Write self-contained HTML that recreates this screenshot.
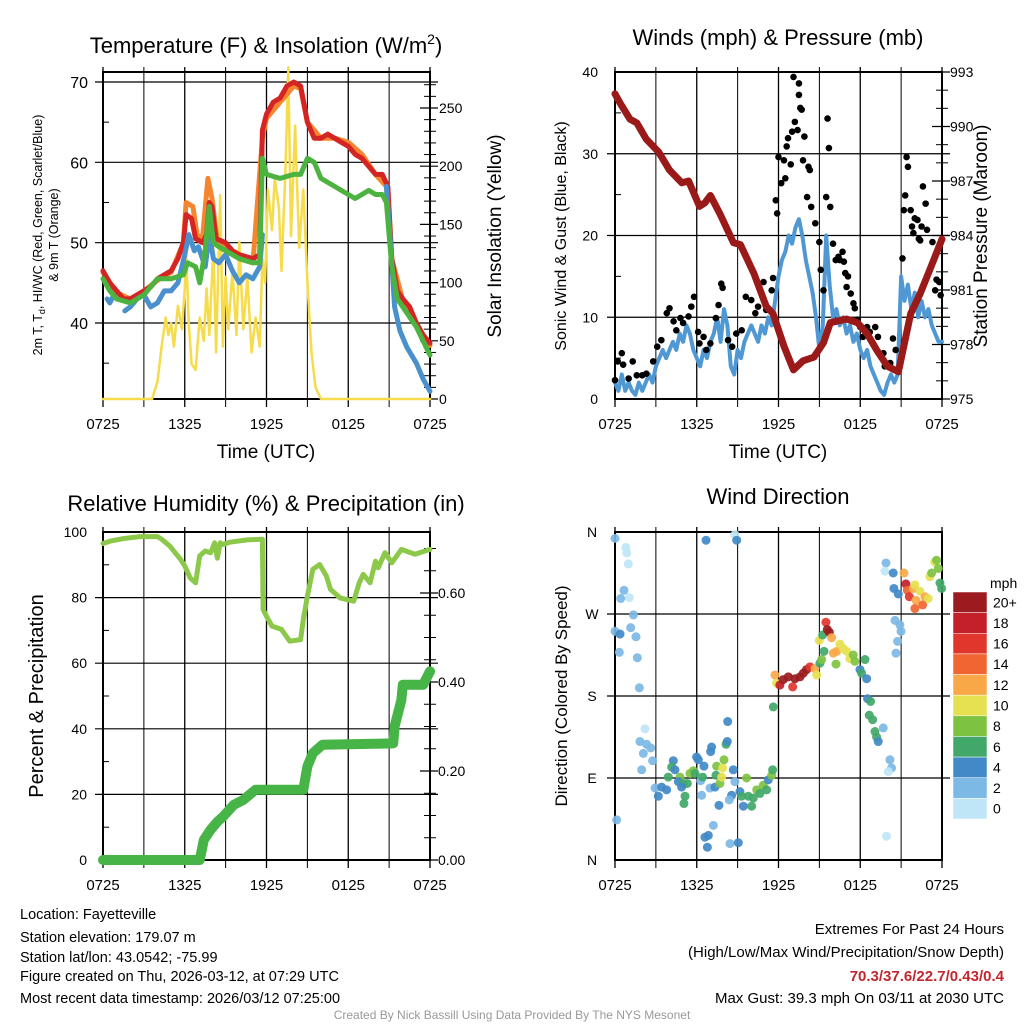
<!DOCTYPE html>
<html><head><meta charset="utf-8"><style>
body{margin:0;background:#fff}
svg{display:block;font-family:"Liberation Sans",Arial,sans-serif}
</style></head><body>
<svg id="c" width="1024" height="1024" viewBox="0 0 1024 1024" xmlns="http://www.w3.org/2000/svg">
<rect width="1024" height="1024" fill="#fff"/>
<g id="g1"></g>
<g id="g2"></g>
<g id="g3"></g>
<g id="g4"></g>
<text x="266" y="53" font-size="22" text-anchor="middle">Temperature (F) &amp; Insolation (W/m<tspan font-size="14" dy="-9">2</tspan><tspan dy="9">)</tspan></text>
<text x="778" y="45" font-size="22" text-anchor="middle">Winds (mph) &amp; Pressure (mb)</text>
<text x="266" y="511" font-size="22" text-anchor="middle">Relative Humidity (%) &amp; Precipitation (in)</text>
<text x="778" y="504" font-size="22" text-anchor="middle">Wind Direction</text>
<text transform="translate(42,235) rotate(-90)" font-size="12.5" text-anchor="middle">2m T, T<tspan font-size="9" dy="3">d</tspan><tspan dy="-3">, HI/WC (Red, Green, Scarlet/Blue)</tspan></text>
<text transform="translate(58,235) rotate(-90)" font-size="12.5" text-anchor="middle">&amp; 9m T (Orange)</text>
<text transform="translate(501,236) rotate(-90)" font-size="19" text-anchor="middle">Solar Insolation (Yellow)</text>
<text transform="translate(566,236) rotate(-90)" font-size="16" text-anchor="middle">Sonic Wind &amp; Gust (Blue, Black)</text>
<text transform="translate(987,236) rotate(-90)" font-size="19" text-anchor="middle">Station Pressure (Maroon)</text>
<text transform="translate(43,696) rotate(-90)" font-size="20" text-anchor="middle">Percent &amp; Precipitation</text>
<text transform="translate(567,696) rotate(-90)" font-size="17" text-anchor="middle">Direction (Colored By Speed)</text>
<text x="266" y="458" font-size="19" text-anchor="middle">Time (UTC)</text>
<text x="778" y="458" font-size="19" text-anchor="middle">Time (UTC)</text>
<g font-size="14.5">
<text x="20" y="919">Location: Fayetteville</text>
<text x="20" y="942">Station elevation: 179.07 m</text>
<text x="20" y="962">Station lat/lon: 43.0542; -75.99</text>
<text x="20" y="981">Figure created on Thu, 2026-03-12, at 07:29 UTC</text>
<text x="20" y="1003">Most recent data timestamp: 2026/03/12 07:25:00</text>
</g>
<g font-size="15" text-anchor="end">
<text x="1004" y="934">Extremes For Past 24 Hours</text>
<text x="1004" y="957">(High/Low/Max Wind/Precipitation/Snow Depth)</text>
<text x="1004" y="981" fill="#c1272d" font-weight="bold">70.3/37.6/22.7/0.43/0.4</text>
<text x="1004" y="1003">Max Gust: 39.3 mph On 03/11 at 2030 UTC</text>
</g>
<text x="512" y="1019" font-size="12" fill="#999" text-anchor="middle">Created By Nick Bassill Using Data Provided By The NYS Mesonet</text>
</svg>
<script>
// ---------- data ----------
const xTickLabels = ["0725","1325","1925","0125","0725"];
const redT = [[0,46.5],[0.5,45],[1,44],[1.5,43],[2,43],[3,44],[3.5,44.5],[4,45.5],[4.5,46],[5,46.5],[5.5,48],[5.9,50],[6.1,53.5],[6.5,53],[6.8,50.5],[7.3,50],[7.6,51],[7.8,55],[8,54.5],[8.3,50.5],[9,50],[9.5,49],[10,48.5],[11,48],[11.5,48.5],[11.7,64],[12,66],[12.5,67.5],[13,68],[13.5,69.5],[14,70],[14.5,69.5],[15,65],[15.5,63],[16,63],[16.5,63.5],[17,63],[17.5,62.5],[18,62],[18.5,61],[19,60.5],[19.5,59.5],[20,58.5],[20.5,58.5],[20.9,57],[21.2,48],[21.6,44],[22,43],[22.5,42],[23,40],[23.5,38.5],[24,37.5]];
const orangeT = [[0,46.3],[1,43.8],[2,43],[3,44],[4,45.3],[5,46.3],[5.9,50],[6.1,55],[6.6,54.5],[6.9,51],[7.3,50.5],[7.7,58],[8,55.5],[8.4,50],[9,49.5],[10,48],[11,47.5],[11.7,63],[12,65.5],[13,67.5],[14,69.5],[14.5,69.2],[15,65],[16,63],[17,63],[18,62.5],[19,61],[20,58.5],[20.8,57],[21.2,48],[22,42.8],[23,39.8],[24,37.2]];
const greenT = [[0,45.5],[0.5,44],[1,43],[2,42.5],[3,43.5],[4,45.5],[5,45.5],[5.9,46],[6.2,47.5],[6.8,47],[7.1,45],[7.5,49],[7.8,54.5],[8.1,50],[8.5,49.5],[9,49],[10,48],[11,47.5],[11.5,47.5],[11.7,60.5],[12,58.5],[13,58],[14,58.5],[14.5,58.5],[15,60.5],[15.5,60],[16,58],[17,57],[18,56],[18.5,55.5],[19,56],[19.5,56.5],[20,56],[20.5,56],[20.8,55],[21.2,47],[21.6,43],[22,42],[23,39.5],[24,36]];
const blueT = [[0.3,43],[0.5,42.5],[0.8,43.5],[null,null],[1.6,41.5],[2,42],[2.5,43],[3,43.5],[3.5,42],[4,42.5],[4.5,44],[5,44],[5.5,45],[6,48.5],[6.3,51],[6.7,49],[7,49.5],[7.5,47],[7.8,51],[8.1,48],[8.5,47.5],[9,48.5],[9.5,46.5],[10,45],[10.5,46],[11,45.5],[11.5,47],[11.7,51],[null,null],[20.8,57],[21.1,50],[21.4,42],[21.8,39],[22.3,37],[23,35],[23.5,33],[24,31.5]];
const solar = [[0,0],[3.6,0],[4.0,15],[4.3,45],[4.6,70],[4.8,55],[5.0,65],[5.2,45],[5.5,80],[5.8,60],[6.0,95],[6.1,125],[6.3,65],[6.5,30],[6.8,25],[7.1,70],[7.4,50],[7.6,95],[7.8,55],[8.1,130],[8.3,40],[8.6,175],[8.8,45],[9.0,105],[9.2,60],[9.5,110],[9.8,55],[10.0,135],[10.3,60],[10.6,105],[10.9,40],[11.2,70],[11.5,45],[11.7,120],[11.9,100],[12.1,180],[12.4,145],[12.6,190],[12.9,165],[13.1,110],[13.4,200],[13.6,285],[13.8,140],[14.1,235],[14.4,130],[14.7,180],[15.0,100],[15.3,40],[15.6,10],[16,0],[24,0]];
const windTimes = [];
const windSpeed = [2,1,3,1,2,1,0.5,2,1,2,3,2, 4,5,6,5,6,7,6,8,7,9,8,6, 5,4,6,5,7,8,10,7,11,9,4,3, 6,5,7,8,9,8,7,9,8,10,9,12, 15,17,18,20,19,21,22,20,17,15,13,10, 6,9,20,14,10,11,9,10,8,9,7,8, 6,5,6,4,3,2,1,0.5,2,3,2,3, 15,12,14,11,13,10,12,10,11,9,8,7,7];
const gusts = [[0,2.3],[0.2,4.6],[0.5,5.6],[0.6,4.2],[1.0,2.5],[1.3,4.6],[1.6,2.9],[2.0,2.9],[2.3,3.1],[2.8,4.6],[3.1,6.4],[3.4,7.2],[3.8,10.5],[4.0,11.1],[4.3,9.5],[4.5,8.4],[4.8,9.9],[5.0,9.3],[5.4,10.1],[5.6,11.3],[5.8,12.5],[6.1,8.2],[6.2,6.8],[6.5,7.6],[6.7,6.0],[7.0,6.8],[7.4,9.9],[7.6,11.5],[7.8,14.1],[7.9,13.6],[8.3,7.2],[8.6,6.4],[8.9,8.0],[9.3,8.4],[9.6,12.5],[10.0,12.1],[10.3,10.5],[10.5,11.3],[10.9,14.3],[11.1,10.9],[11.5,13.3],[11.6,14.8],[11.8,24.3],[11.9,22.7],[12.0,29.6],[12.2,26.4],[12.4,29.2],[12.5,27.0],[12.6,30.9],[12.7,31.9],[12.9,28.7],[13.0,32.7],[13.1,39.4],[13.2,33.9],[13.4,32.9],[13.5,37.2],[13.5,38.6],[13.6,35.6],[13.7,35.4],[13.8,29.2],[13.9,32.1],[14.1,24.7],[14.2,28.4],[14.3,28.0],[14.4,23.5],[14.7,21.5],[15.0,19.2],[15.1,15.8],[15.3,13.3],[15.5,24.7],[15.6,34.3],[15.7,30.7],[15.8,23.5],[16.0,19.0],[16.2,17.0],[16.4,17.4],[16.5,17.0],[16.7,18.0],[16.8,16.8],[16.9,15.4],[17.0,13.7],[17.1,15.0],[17.3,12.9],[17.5,11.7],[17.6,11.1],[17.8,9.7],[18.0,8.8],[18.2,7.6],[18.5,8.8],[18.7,8.2],[19.1,8.8],[19.3,7.6],[19.7,5.6],[19.8,4.0],[20.2,4.4],[20.4,7.4],[20.6,6.0],[21.1,17.2],[21.2,23.1],[21.3,24.9],[21.4,29.6],[21.5,28.4],[21.7,23.1],[21.8,21.1],[21.9,20.3],[22.0,22.1],[22.2,21.9],[22.3,19.6],[22.4,19.4],[22.5,21.1],[22.6,26.0],[22.8,23.9],[22.9,20.7],[23.3,19.2],[23.4,17.0],[23.6,14.6],[23.8,14.3],[23.5,13.3],[23.9,12.7]];
const pressure = [[0,991.8],[0.37,991.3],[1.1,990.4],[1.6,990.2],[2.3,989.3],[3.2,988.6],[4.0,987.6],[4.9,986.9],[5.4,987.0],[6.2,985.6],[6.6,985.8],[7.0,986.2],[7.7,985.2],[8.7,983.6],[9.2,983.5],[10.2,981.9],[11.1,980.1],[11.6,979.7],[12.4,977.9],[13.1,976.6],[13.8,977.1],[14.6,977.3],[15.3,978.1],[15.8,979.2],[17.0,979.4],[17.8,979.2],[18.5,978.6],[19.2,977.7],[20.0,976.8],[20.8,976.5],[21.7,979.7],[22.4,980.8],[23.1,982.1],[24,983.8]];
const rh = [[0,96.5],[0.5,97.2],[1.5,98],[2.7,98.6],[4.0,98.6],[4.3,97.8],[4.9,95.7],[5.7,91.6],[6.0,89.6],[6.4,86],[6.8,84.5],[7.1,92.7],[7.5,94.2],[7.9,93.7],[8.2,96.7],[8.4,92],[8.6,96.7],[8.8,96.2],[9.3,96.9],[10.6,97.6],[11.7,97.8],[11.75,76.4],[12.0,74.3],[12.4,71.3],[13.1,70.3],[13.7,66.7],[14.5,67.2],[14.7,73.3],[15.0,80.4],[15.4,88.6],[15.9,90.1],[16.4,86.6],[16.7,82.5],[17.4,79.9],[18.4,78.9],[18.8,84.5],[19.1,87.1],[19.6,84.5],[20.0,91.1],[20.2,89.1],[20.7,93.7],[21.2,90.6],[21.9,94.7],[22.9,93.2],[24,94.7]];
const precip = [[0,0],[7.1,0],[7.4,0.045],[7.9,0.068],[8.4,0.086],[8.8,0.097],[9.6,0.124],[10.3,0.135],[11.2,0.158],[14.7,0.158],[15.0,0.21],[15.4,0.24],[16.1,0.259],[21.3,0.262],[21.4,0.30],[21.9,0.36],[22.0,0.394],[23.5,0.394],[24,0.424]];
const dirObs = [[0,353,1],[0.8,343,0],[0.86,337,0],[0.98,325,0],[0.66,296,1],[0.42,287,2],[1.05,288,0],[1.35,269,2],[1.15,255,2],[0,251,2],[0.37,248,4],[1.54,245,2],[0.32,228,2],[1.64,222,2],[1.79,189,2],[2.2,144,0],[1.83,130,2],[2.32,127,1],[2.62,123,2],[2.08,117,2],[2.76,109,2],[1.96,99,2],[0.12,44,2],[2.94,79,2],[3.42,80,4],[3.79,77,4],[3.18,70,4],[4.28,109,4],[4.16,102,6],[3.91,91,6],[4.4,99,4],[4.77,91,8],[4.65,86,4],[5.01,84,6],[5.31,84,6],[5.5,95,8],[5.75,98,8],[5.87,95,6],[5.14,70,6],[5.06,62,6],[4.89,80,4],[5.99,113,4],[6.12,110,4],[6.53,103,4],[6.29,87,2],[6.43,91,6],[6.36,71,2],[6.97,79,2],[7.09,124,4],[7.02,119,4],[7.34,80,4],[7.46,103,8],[7.41,93,6],[7.7,84,8],[7.9,101,10],[7.83,91,10],[8.0,110,8],[8.15,127,6],[8.24,130,4],[8.27,152,4],[7.63,60,4],[7.22,38,2],[6.85,27,4],[6.6,25,4],[6.78,14,4],[8.44,18,2],[9.05,19,4],[6.68,351,4],[8.8,357,0],[8.93,351,4],[8.68,99,4],[8.8,86,2],[8.56,71,4],[8.39,66,2],[9.17,75,4],[9.29,70,6],[9.42,59,4],[9.66,90,8],[9.78,70,6],[10.03,59,6],[10.15,68,6],[10.4,77,8],[10.64,73,6],[10.88,82,8],[11.13,77,6],[11.25,88,4],[11.5,93,8],[11.57,99,6],[11.62,168,6],[11.74,203,12],[11.86,194,10],[12.1,192,18],[12.35,198,20],[12.72,201,20],[13.04,190,16],[13.21,199,20],[13.58,201,20],[13.82,205,20],[14.06,209,20],[14.31,212,16],[14.68,210,12],[14.8,203,10],[15.04,216,6],[15.17,220,8],[14.99,241,10],[15.24,247,6],[15.48,261,16],[15.58,253,20],[15.73,250,20],[15.9,244,12],[15.34,229,6],[16.02,227,12],[16.27,229,12],[16.51,237,10],[16.76,232,10],[17.0,229,10],[17.24,221,10],[17.49,225,8],[17.61,218,8],[16.22,215,8],[18.35,220,6],[17.98,209,4],[18.1,205,6],[18.47,199,4],[18.54,177,4],[18.76,174,6],[18.66,159,6],[18.91,154,6],[19.08,141,6],[19.2,135,6],[19.69,145,2],[19.32,130,4],[20.18,110,2],[20.3,101,2],[20.06,97,0],[19.93,26,0],[19.89,326,2],[19.81,317,0],[20.42,315,4],[20.47,298,4],[20.79,292,4],[20.55,263,2],[20.91,258,2],[20.99,251,2],[20.74,240,2],[20.62,227,2],[21.21,315,12],[21.35,303,18],[21.45,296,14],[21.6,289,16],[21.89,298,12],[22.01,302,10],[22.09,285,12],[22.01,276,14],[22.38,295,10],[22.58,280,14],[22.75,289,12],[22.99,287,10],[23.11,311,10],[23.24,315,8],[23.48,327,10],[23.6,329,8],[23.73,320,8],[23.85,304,6],[23.97,298,6]];
const speedBins = ["0","2","4","6","8","10","12","14","16","18","20+"];
const speedColors = ["#bfe6f7","#7db9e5","#4189c7","#42a86a","#7ec242","#e6e151","#f9a848","#f06530","#e0362b","#c3202a","#9b1b1e"];

const NS="http://www.w3.org/2000/svg";
function mk(parent,tag,attrs){const e=document.createElementNS(NS,tag);for(const k in attrs)e.setAttribute(k,attrs[k]);parent.appendChild(e);return e;}
function txt(parent,x,y,s,size,anchor){const e=mk(parent,"text",{x:x,y:y,"font-size":size,"text-anchor":anchor});e.textContent=s;return e;}
function panel(gid,x0,y0,w,h){return {g:document.getElementById(gid),x0,y0,w,h,x:t=>x0+t*w/24};}
function lin(v0,v1,p0,p1){return v=>p0+(v-v0)*(p1-p0)/(v1-v0);}
function frame(P,leftTicks,ly,rightTicks,ry,minorL,minorR){
  const g=P.g;
  for(let i=0;i<=8;i++){const X=P.x(i*3);const l=mk(g,"line",{x1:X,x2:X,y1:P.y0-5,y2:P.y0+P.h+8,stroke:"#000","stroke-width":(i%2?1:1.3)});
    
    }
  leftTicks.forEach(v=>{const Y=ly(v);const l=mk(g,"line",{x1:P.x0-8,x2:P.x0+P.w+8,y1:Y,y2:Y,stroke:"#000","stroke-width":1.2});
    
    });
  minorL.forEach(v=>{const Y=ly(v);mk(g,"line",{x1:P.x0,x2:P.x0+6,y1:Y,y2:Y,stroke:"#000","stroke-width":1});});
  if(ry){rightTicks.forEach(v=>{const Y=ry(v);mk(g,"line",{x1:P.x0+P.w-10,x2:P.x0+P.w+8,y1:Y,y2:Y,stroke:"#000","stroke-width":1.2});});
    minorR.forEach(v=>{const Y=ry(v);mk(g,"line",{x1:P.x0+P.w-6,x2:P.x0+P.w+6,y1:Y,y2:Y,stroke:"#000","stroke-width":1});});}
  mk(g,"rect",{x:P.x0,y:P.y0,width:P.w,height:P.h,fill:"none",stroke:"#000","stroke-width":2});
  xTickLabels.forEach((s,i)=>{const t=txt(g,P.x(i*6),P.y0+P.h+30,s,15,"middle");
    
    });
}
function path(P,yf,arr,color,wd,name,opac){
  let d="",pen=false;
  arr.forEach(p=>{if(p[0]===null){pen=false;return;}d+=(pen?"L":"M")+P.x(p[0]).toFixed(1)+" "+yf(p[1]).toFixed(1);pen=true;});
  const e=mk(P.g,"path",{d:d,fill:"none",stroke:color,"stroke-width":wd,"stroke-linejoin":"round","stroke-linecap":"round",opacity:opac||1});
  
  
  return e;
}
{
 const P=panel("g1",103,72,327,327);
 const y=lin(40,70,323,82), ys=lin(0,250,399,108);
 frame(P,[40,50,60,70],y,[0,50,100,150,200,250],ys,[35,45,55,65],[10,20,30,40,60,70,80,90,110,120,130,140,160,170,180,190,210,220,230,240,260,270]);
 path(P,ys,solar,"#f6dc4a",2.5,"solar-insolation-line");
 path(P,y,orangeT,"#f5852e",5,"9m-temperature-line");
 path(P,y,redT,"#d42424",5,"2m-temperature-line");
 path(P,y,blueT,"#4a90cc",5,"wind-chill-line");
 path(P,y,greenT,"#4cb340",5,"dewpoint-line");
 [40,50,60,70].forEach(v=>{const t=txt(P.g,88,y(v)+6,String(v),16,"end");
   
   });
 [0,50,100,150,200,250].forEach(v=>{const t=txt(P.g,439,ys(v)+5,String(v),14,"start");
   
   });
}
{
 const P=panel("g2",615,72,327,327);
 const y=lin(0,40,399,72), yp=lin(975,993,399,72);
 frame(P,[10,20,30],y,[975,978,981,984,987,990,993],yp,[5,15,25,35],[976,977,979,980,982,983,985,986,988,989,991,992]);
 windSpeed.forEach((v,i)=>windTimes.push(i*0.25));
 path(P,y,windSpeed.map((v,i)=>[windTimes[i],v]),"#4f98d3",4,"sonic-wind-line");
 gusts.forEach(p=>{const c=mk(P.g,"circle",{cx:P.x(p[0]),cy:y(p[1]),r:3.3,fill:"#000"});
   
   });
 path(P,yp,pressure,"#9a1a1a",7,"pressure-line");
 [0,10,20,30,40].forEach(v=>{const t=txt(P.g,598,y(v)+5,String(v),14,"end");
   
   });
 [975,978,981,984,987,990,993].forEach(v=>{const t=txt(P.g,950,yp(v)+5,String(v),14,"start");
   
   });
}
{
 const P=panel("g3",103,532,327,328);
 const y=lin(0,100,860,532), yr=lin(0,0.6,860,593);
 frame(P,[20,40,60,80],y,[0,0.2,0.4,0.6],yr,[10,30,50,70,90],[0.05,0.1,0.15,0.25,0.3,0.35,0.45,0.5,0.55,0.65,0.7]);
 path(P,y,rh,"#8cc94a",5,"relative-humidity-line");
 path(P,yr,precip,"#46b446",10,"precipitation-line");
 [0,20,40,60,80,100].forEach(v=>{const t=txt(P.g,87,y(v)+5,String(v),14,"end");
   
   });
 [0,0.2,0.4,0.6].forEach(v=>{const t=txt(P.g,438,yr(v)+5,v.toFixed(2),14,"start");
   
   });
}
{
 const P=panel("g4",615,532,327,328);
 const y=lin(0,360,860,532);
 frame(P,[90,180,270],y,[],null,[],[]);
 dirObs.forEach(p=>{const idx=Math.min(10,Math.round(p[2]/2));
   const c=mk(P.g,"circle",{cx:P.x(p[0]),cy:y(p[1]),r:4.5,fill:speedColors[idx],opacity:0.92});
   
   });
 [["N",0],["E",90],["S",180],["W",270],["N",360]].forEach(a=>{const t=txt(P.g,592,y(a[1])+5,a[0],14,"middle");
   
   });
 const cb=mk(P.g,"g",{});
 
 
 const bh=227/11;
 for(let i=0;i<11;i++){const k=10-i;const Y=592+i*bh;
   const r=mk(cb,"rect",{x:953,y:Y,width:34,height:bh,fill:speedColors[k],stroke:"#fff","stroke-width":0.5});
   
   
   const t=txt(cb,993,Y+bh/2+5,speedBins[k],14,"start");
   
   }
 const m=txt(cb,990,588,"mph",14,"start");
 
 
}
</script>
</body></html>
